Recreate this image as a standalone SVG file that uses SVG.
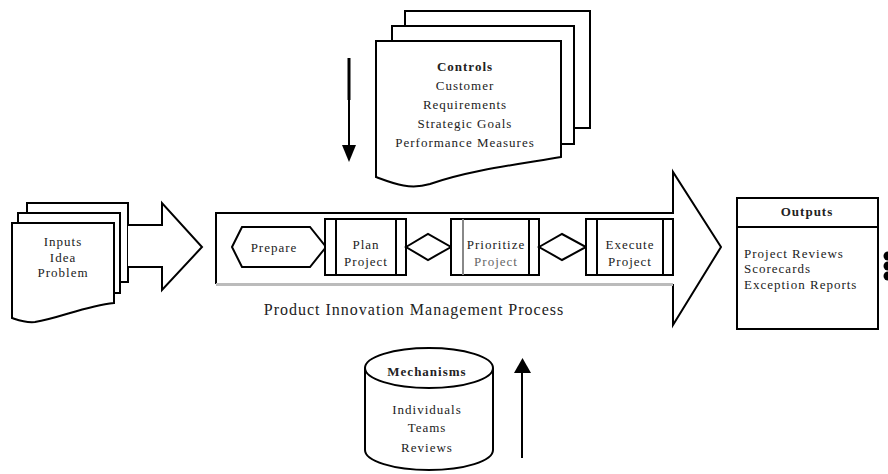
<svg xmlns="http://www.w3.org/2000/svg" width="888" height="474" viewBox="0 0 888 474">
<style>
.s{fill:#fff;stroke:#000;stroke-width:2}
.t{font-family:"Liberation Serif","Times New Roman",serif;font-size:13px;fill:#222;text-anchor:middle;letter-spacing:1px}
.b{font-weight:bold}
.l{text-anchor:start}
</style>
<defs>
<marker id="ah" markerWidth="14" markerHeight="17" refX="7" refY="17" orient="auto" markerUnits="userSpaceOnUse" viewBox="0 0 14 17">
<path d="M0,0 L14,0 L7,17 Z" fill="#000" transform="rotate(0)"/>
</marker>
</defs>
<rect width="888" height="474" fill="#fff"/>

<g id="controls">
<path class="s" d="M405,11 H590 V128 H405 Z"/>
<path class="s" d="M392,26 H574 V144 H392 Z"/>
<path class="s" d="M376,41 H561 V157 C520,164 470,170 430,184 C410,190 395,184 376,177 Z"/>
<text class="t b" x="465" y="71">Controls</text>
<text class="t" x="465" y="90">Customer</text>
<text class="t" x="465" y="109">Requirements</text>
<text class="t" x="465" y="128">Strategic Goals</text>
<text class="t" x="465" y="147">Performance Measures</text>
</g>

<g id="inputs">
<path class="s" d="M27,203 H128 V282 H27 Z"/>
<path class="s" d="M18,213 H120 V293 H18 Z"/>
<path class="s" d="M12,223 H114 V303 C85,306 60,318 35,322 C25,323 18,320 12,318 Z"/>
<text class="t" x="63" y="246">Inputs</text>
<text class="t" x="63" y="262">Idea</text>
<text class="t" x="63" y="277">Problem</text>
</g>

<g id="input-arrow">
<path class="s" d="M128,225 H162 V203 L202,247 L162,290 V267 H128"/>
</g>

<g id="process">
<path d="M216,213 H673 V172 L721,247 L673,325 V284 H216 Z" fill="#fff"/>
<path d="M216,284 V213 H673 V172 L721,247 L673,325 V284" fill="none" stroke="#000" stroke-width="2"/>
<line x1="216" y1="284.5" x2="673" y2="284.5" stroke="#bbb" stroke-width="3"/>
<text class="t" x="414" y="315" style="font-size:16px">Product Innovation Management Process</text>
</g>

<g id="prepare">
<path class="s" d="M232,247 L242,227 H310 L326,247 L310,267 H242 Z"/>
<text class="t" x="274" y="252">Prepare</text>
</g>

<g id="plan">
<rect class="s" x="325" y="219" width="81" height="56"/>
<line x1="336" y1="219" x2="336" y2="275" stroke="#000" stroke-width="2"/>
<line x1="396" y1="219" x2="396" y2="275" stroke="#000" stroke-width="2"/>
<text class="t" x="366" y="249">Plan</text>
<text class="t" x="366" y="266">Project</text>
</g>

<g id="decision1">
<path class="s" d="M406,247 L428,234 L451,247 L428,260 Z"/>
</g>

<g id="prioritize">
<rect class="s" x="451" y="219" width="88" height="56"/>
<line x1="463" y1="219" x2="463" y2="275" stroke="#888" stroke-width="2"/>
<line x1="529" y1="219" x2="529" y2="275" stroke="#000" stroke-width="2"/>
<text class="t" x="496" y="249">Prioritize</text>
<text class="t" x="496" y="266" style="fill:#666">Project</text>
</g>

<g id="decision2">
<path class="s" d="M539,247 L562,234 L586,247 L562,260 Z"/>
</g>

<g id="execute">
<rect class="s" x="586" y="219" width="87" height="56"/>
<line x1="597" y1="219" x2="597" y2="275" stroke="#000" stroke-width="2"/>
<line x1="663" y1="219" x2="663" y2="275" stroke="#000" stroke-width="2"/>
<text class="t" x="630" y="249">Execute</text>
<text class="t" x="630" y="266">Project</text>
</g>

<g id="outputs">
<rect class="s" x="737" y="198" width="141" height="131"/>
<line x1="737" y1="227" x2="878" y2="227" stroke="#000" stroke-width="2"/>
<text class="t b" x="807" y="216">Outputs</text>
<text class="t l" x="744" y="258">Project Reviews</text>
<text class="t l" x="744" y="273">Scorecards</text>
<text class="t l" x="744" y="289">Exception Reports</text>
<circle cx="888" cy="256" r="4.5" fill="#000"/>
<circle cx="888" cy="266" r="4.5" fill="#000"/>
<circle cx="888" cy="276" r="4.5" fill="#000"/>
</g>

<g id="mechanisms">
<path class="s" d="M365,368 V450 A64,20 0 0 0 493,450 V368"/>
<ellipse class="s" cx="429" cy="368" rx="64" ry="20"/>
<text class="t b" x="427" y="376">Mechanisms</text>
<text class="t" x="427" y="414">Individuals</text>
<text class="t" x="427" y="432">Teams</text>
<text class="t" x="427" y="452">Reviews</text>
</g>

<g id="connectors">
<line x1="349" y1="58" x2="349" y2="100" stroke="#000" stroke-width="3"/>
<line x1="349" y1="100" x2="349" y2="148" stroke="#000" stroke-width="2"/>
<path d="M342,145 H356 L349,162 Z" fill="#000"/>
<line x1="522" y1="458" x2="522" y2="370" stroke="#000" stroke-width="2"/>
<path d="M514,373 H531 L522.5,358 Z" fill="#000"/>
</g>
</svg>
